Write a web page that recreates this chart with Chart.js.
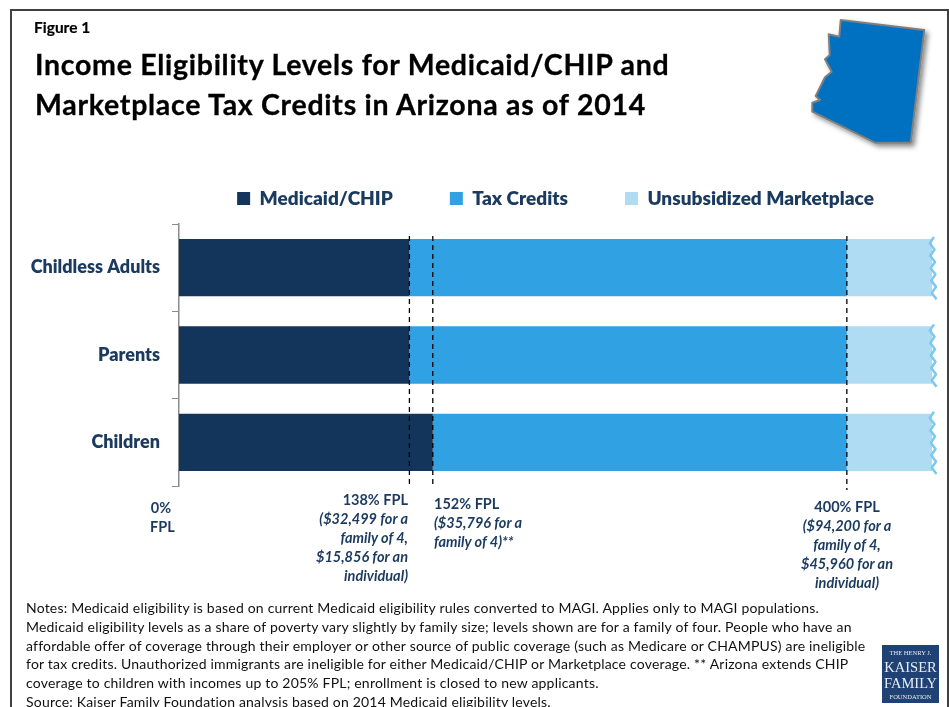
<!DOCTYPE html>
<html>
<head>
<meta charset="utf-8">
<title>Income Eligibility Levels</title>
<script src="https://cdn.jsdelivr.net/npm/chart.js@4"></script>
<style>
  html, body { margin: 0; padding: 0; background: #fff; }
  body { position: relative; width: 949px; height: 707px; overflow: hidden; font-family: Lato, sans-serif; }
  #grafico { position: absolute; left: 0; top: 0; }
  #moldura { position: absolute; left: 10px; top: 9px; width: 935px; height: 700px; border: 2px solid #404040; border-bottom: 0; }
  .abs { position: absolute; white-space: nowrap; }
  #figura { left: 34px; top: 18px; font-size: 15.5px; font-weight: 700; color: #000; -webkit-text-stroke: 0.2px #000; }
  #titulo { left: 35px; top: 44px; font-size: 28.5px; letter-spacing: 0.72px; line-height: 40px; font-weight: 700; color: #000; -webkit-text-stroke: 0.3px #000; }
  .fpl { position: absolute; color: #1b3a5f; font-size: 14.5px; line-height: 19px; font-weight: 700; white-space: nowrap; }
  .fpl i { font-weight: 700; }
  #notas { left: 26px; top: 599px; font-size: 14px; letter-spacing: 0.2px; line-height: 18.8px; color: #111; }
  #mapa { position: absolute; left: 800px; top: 10px; }
  #logo { position: absolute; left: 882px; top: 645px; width: 57px; height: 58px; background: #1f4173; color: #e6ecf4; text-align: center; font-family: "Liberation Serif", serif; }
  #logo div { position: absolute; left: 0; width: 57px; white-space: nowrap; }
</style>
</head>
<body>
<canvas id="grafico" width="949" height="707"></canvas>
<div id="moldura"></div>

<div class="abs" id="figura">Figure 1</div>
<div class="abs" id="titulo">Income Eligibility Levels for Medicaid/CHIP and<br>Marketplace Tax Credits in Arizona as of 2014</div>

<svg id="mapa" width="140" height="150" viewBox="800 10 140 150">
  <defs><filter id="sombra" x="-20%" y="-20%" width="140%" height="140%"><feDropShadow dx="3" dy="3" stdDeviation="2.5" flood-color="#000" flood-opacity="0.45"/></filter></defs>
  <polygon filter="url(#sombra)" fill="#0070c0" stroke="#7f7f7f" stroke-width="2" stroke-linejoin="round"
    points="840.7,20 924.3,30 910.7,142.7 875,142.7 812.3,111.7 812.3,102.7 820,100 815.7,96 825,77.3 831.7,71.7 825,59.3 829.7,55 828.7,34.3 839.3,36.7"/>
</svg>

<div class="fpl" style="left:150px;top:498px;text-align:center;width:22px">0%<br>FPL</div>
<div class="fpl" style="right:541px;top:490px;text-align:right">138% FPL<br><i>($32,499 for a<br>family of 4,<br>$15,856 for an<br>individual)</i></div>
<div class="fpl" style="left:434px;top:494px">152% FPL<br><i>($35,796 for a<br>family of 4)**</i></div>
<div class="fpl" style="left:747px;width:200px;top:497px;text-align:center">400% FPL<br><i>($94,200 for a<br>family of 4,<br>$45,960 for an<br>individual)</i></div>

<div class="abs" id="notas">Notes: Medicaid eligibility is based on current Medicaid eligibility rules converted to MAGI. Applies only to MAGI populations.<br>Medicaid eligibility levels as a share of poverty vary slightly by family size; levels shown are for a family of four. People who have an<br>affordable offer of coverage through their employer or other source of public coverage (such as Medicare or CHAMPUS) are ineligible<br>for tax credits. Unauthorized immigrants are ineligible for either Medicaid/CHIP or Marketplace coverage. ** Arizona extends CHIP<br>coverage to children with incomes up to 205% FPL; enrollment is closed to new applicants.<br>Source: Kaiser Family Foundation analysis based on 2014 Medicaid eligibility levels.</div>

<div id="logo">
  <div style="top:4px;font-size:6.5px">THE HENRY J.</div>
  <div style="top:14px;font-size:14.5px">KAISER</div>
  <div style="top:30px;font-size:14.5px">FAMILY</div>
  <div style="top:48px;font-size:6.5px">FOUNDATION</div>
</div>

<script>
// valores (% FPL)
const categorias = ['Childless Adults', 'Parents', 'Children'];
const medicaid = [138, 138, 152];
const creditos = [262, 262, 248];
const semSubsidio = [51, 51, 51];
const limites = [138, 152, 400];
const nomesSeries = ['Medicaid/CHIP', 'Tax Credits', 'Unsubsidized Marketplace'];
const coresSeries = ['#14355b', '#30a2e3', '#b0dcf3'];

const corTexto = '#1b3a5f';

// linhas tracejadas nos limites de renda
const pluginLimites = {
  id: 'limites',
  afterDatasetsDraw(chart) {
    const { ctx, scales } = chart;
    ctx.save();
    ctx.strokeStyle = '#000';
    ctx.lineWidth = 1.3;
    ctx.setLineDash([5, 4]);
    limites.forEach(v => {
      const x = scales.x.getPixelForValue(v);
      ctx.beginPath();
      ctx.moveTo(x, scales.y.top + 12);
      ctx.lineTo(x, scales.y.bottom + (v === 400 ? 4 : 0));
      ctx.stroke();
    });
    ctx.restore();
  }
};

// borda ondulada no fim de cada barra
const pluginOnda = {
  id: 'onda',
  afterDatasetsDraw(chart) {
    const { ctx } = chart;
    const barras = chart.getDatasetMeta(2).data;
    ctx.save();
    ctx.strokeStyle = '#7cc8ef';
    ctx.lineWidth = 2.5;
    ctx.lineJoin = 'round';
    barras.forEach(b => {
      const topo = b.y - b.height / 2 - 2;
      const passo = (b.height + 5) / 10;
      ctx.beginPath();
      for (let i = 0; i <= 10; i++) {
        const dx = (i % 2 ? -2.5 : 2) + i * 0.25;
        const x = b.x + dx;
        const y = topo + i * passo;
        if (i === 0) ctx.moveTo(x, y); else ctx.lineTo(x, y);
      }
      ctx.stroke();
    });
    ctx.restore();
  }
};

new Chart(document.getElementById('grafico'), {
  type: 'bar',
  data: {
    labels: categorias,
    datasets: [
      { label: nomesSeries[0], data: medicaid, backgroundColor: coresSeries[0] },
      { label: nomesSeries[1], data: creditos, backgroundColor: coresSeries[1] },
      { label: nomesSeries[2], data: semSubsidio, backgroundColor: coresSeries[2] }
    ]
  },
  plugins: [pluginLimites, pluginOnda],
  options: {
    indexAxis: 'y',
    responsive: false,
    animation: false,
    barPercentage: 0.656,
    categoryPercentage: 1,
    layout: { padding: { left: 0, right: 17, top: 132, bottom: 221 } },
    plugins: {
      tooltip: { enabled: false },
      legend: {
        position: 'top',
        fullSize: false,
        labels: {
          boxWidth: 13,
          boxHeight: 13,
          padding: 57,
          color: corTexto,
          font: { family: 'Lato', size: 19, weight: '800' }
        }
      }
    },
    scales: {
      x: {
        position: 'top',
        stacked: true,
        min: 0,
        max: 451,
        grid: { display: false },
        border: { display: false },
        ticks: { display: false },
        afterFit(s) { s.height = 6; }
      },
      y: {
        stacked: true,
        afterFit(s) { s.width = 179; },
        border: { color: '#8c8c8c', width: 1.5 },
        grid: { drawOnChartArea: false, drawTicks: true, tickLength: 7, color: '#8c8c8c' },
        ticks: { padding: 12, color: corTexto, font: { family: 'Lato', size: 18, weight: '800' } }
      }
    }
  }
});
</script>
</body>
</html>
